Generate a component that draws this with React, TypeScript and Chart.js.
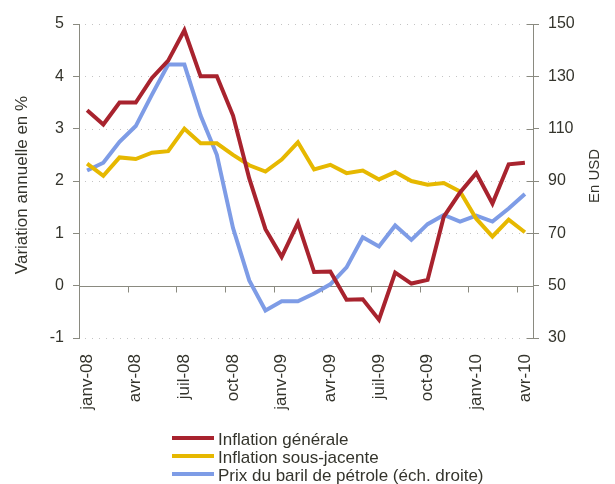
import React, { useEffect, useRef } from "react";
import { Chart, registerables } from "chart.js";

Chart.register(...registerables);

const months: string[] = [
  "janv-08", "févr-08", "mars-08", "avr-08", "mai-08", "juin-08", "juil-08", "août-08", "sept-08", "oct-08", "nov-08", "déc-08",
  "janv-09", "févr-09", "mars-09", "avr-09", "mai-09", "juin-09", "juil-09", "août-09", "sept-09", "oct-09", "nov-09", "déc-09",
  "janv-10", "févr-10", "mars-10", "avr-10",
];

const inflationGenerale: number[] = [
  3.35, 3.08, 3.5, 3.5, 3.97, 4.3, 4.88, 4.0, 4.0, 3.25, 2.05, 1.08,
  0.55, 1.2, 0.26, 0.27, -0.27, -0.26, -0.65, 0.25, 0.04, 0.11, 1.32, 1.78,
  2.15, 1.57, 2.32, 2.35,
];

const inflationSousJacente: number[] = [
  2.33, 2.1, 2.45, 2.42, 2.54, 2.57, 3.0, 2.72, 2.72, 2.5, 2.3, 2.18,
  2.41, 2.74, 2.22, 2.31, 2.15, 2.2, 2.03, 2.17, 2.0, 1.93, 1.96, 1.8,
  1.28, 0.94, 1.26, 1.02,
];

const prixPetrole: number[] = [
  94, 97, 105, 111, 123, 134.5, 134.5, 115, 100, 72, 52, 40.5,
  44, 44, 47, 50.5, 57, 68.5, 65, 73, 67.5, 73.5, 77, 74.5,
  76.8, 74.5, 79.5, 85,
];

const leftTicks: number[] = [-1, 0, 1, 2, 3, 4, 5];
const rightTicks: number[] = [30, 50, 70, 90, 110, 130, 150];

const seriesNames: string[] = [
  "Inflation générale",
  "Inflation sous-jacente",
  "Prix du baril de pétrole (éch. droite)",
];
const seriesColors: string[] = ["#A8232E", "#E6B800", "#7E9CE6"];

const leftTitle = "Variation annuelle en %";
const rightTitle = "En USD";

const FONT = "'Liberation Sans', Arial, sans-serif";
const TEXT = "#34342c";
const AXIS = "#8a8a80";

const decor = {
  id: "decor",
  beforeDatasetsDraw(chart: any) {
    const { ctx, chartArea: a, scales } = chart;
    const y = scales.y;
    const x = scales.x;
    const line = (x1: number, y1: number, x2: number, y2: number) => {
      ctx.beginPath();
      ctx.moveTo(x1, y1);
      ctx.lineTo(x2, y2);
      ctx.stroke();
    };
    ctx.save();
    ctx.lineWidth = 1;
    ctx.strokeStyle = "#c4c4c4";
    ctx.setLineDash([1, 6]);
    for (const v of leftTicks) {
      if (v === 0) continue;
      const py = Math.round(y.getPixelForValue(v)) + 0.5;
      line(a.left + 6, py, a.right - 6, py);
    }
    ctx.setLineDash([]);
    ctx.strokeStyle = AXIS;
    const y0 = Math.round(y.getPixelForValue(0)) + 0.5;
    line(a.left, y0, a.right, y0);
    const step = x.getPixelForValue(1) - x.getPixelForValue(0);
    for (let i = 3; i < months.length; i += 3) {
      const px = Math.round(x.getPixelForValue(i) - step / 2) + 0.5;
      line(px, y0, px, y0 + 6);
    }
    const yr = scales.y1;
    for (const v of rightTicks) {
      const py = Math.round(yr.getPixelForValue(v)) + 0.5;
      line(a.right - 6, py, a.right, py);
    }
    ctx.restore();
  },
  afterDraw(chart: any) {
    const { ctx } = chart;
    ctx.save();
    ctx.fillStyle = TEXT;
    ctx.textAlign = "center";
    ctx.textBaseline = "middle";
    ctx.font = `17px ${FONT}`;
    ctx.save();
    ctx.translate(22, 185);
    ctx.rotate(-Math.PI / 2);
    ctx.fillText(leftTitle, 0, 0);
    ctx.restore();
    ctx.font = `15px ${FONT}`;
    ctx.save();
    ctx.translate(595, 176);
    ctx.rotate(-Math.PI / 2);
    ctx.fillText(rightTitle, 0, 0);
    ctx.restore();
    ctx.font = `17px ${FONT}`;
    ctx.textAlign = "left";
    const ys = [438, 456, 474];
    for (let i = 0; i < seriesNames.length; i++) {
      ctx.strokeStyle = seriesColors[i];
      ctx.lineWidth = 4;
      ctx.beginPath();
      ctx.moveTo(172, ys[i]);
      ctx.lineTo(214, ys[i]);
      ctx.stroke();
      ctx.fillStyle = TEXT;
      ctx.fillText(seriesNames[i], 218, ys[i] + 2);
    }
    ctx.restore();
  },
};

export default function App() {
  const ref = useRef<HTMLCanvasElement | null>(null);
  useEffect(() => {
    if (!ref.current) return;
    const chart = new Chart(ref.current, {
      type: "line",
      data: {
        labels: months,
        datasets: [
          { label: seriesNames[0], data: inflationGenerale, borderColor: seriesColors[0], borderWidth: 4, pointRadius: 0, tension: 0, yAxisID: "y", order: 0 },
          { label: seriesNames[1], data: inflationSousJacente, borderColor: seriesColors[1], borderWidth: 4, pointRadius: 0, tension: 0, yAxisID: "y", order: 1 },
          { label: seriesNames[2], data: prixPetrole, borderColor: seriesColors[2], borderWidth: 4, pointRadius: 0, tension: 0, yAxisID: "y1", order: 2 },
        ],
      },
      options: {
        responsive: false,
        animation: false,
        layout: { padding: { top: 24, left: 0, right: 0, bottom: 0 } },
        plugins: { legend: { display: false }, tooltip: { enabled: false } },
        scales: {
          x: {
            type: "category",
            offset: true,
            grid: { display: false },
            border: { display: false },
            ticks: {
              autoSkip: false,
              maxRotation: 90,
              minRotation: 90,
              padding: 8,
              color: TEXT,
              font: { family: FONT, size: 17 },
              callback: (_v: any, i: number) => (i % 3 === 0 ? months[i] : ""),
            },
            afterFit: (s: any) => {
              s.height = 146;
            },
          },
          y: {
            type: "linear",
            position: "left",
            min: -1,
            max: 5,
            afterBuildTicks: (s: any) => {
              s.ticks = leftTicks.map((v) => ({ value: v }));
            },
            grid: { drawOnChartArea: false, drawTicks: true, tickLength: 6, color: AXIS },
            border: { display: true, color: AXIS, width: 1 },
            ticks: { padding: 9, color: TEXT, font: { family: FONT, size: 16 } },
            afterFit: (s: any) => {
              s.width = 79;
            },
          },
          y1: {
            type: "linear",
            position: "right",
            min: 30,
            max: 150,
            afterBuildTicks: (s: any) => {
              s.ticks = rightTicks.map((v) => ({ value: v }));
            },
            grid: { drawOnChartArea: false, drawTicks: true, tickLength: 6, color: AXIS },
            border: { display: true, color: AXIS, width: 1 },
            ticks: { padding: 9, color: TEXT, font: { family: FONT, size: 16 } },
            afterFit: (s: any) => {
              s.width = 82;
            },
          },
        },
      },
      plugins: [decor],
    });
    return () => chart.destroy();
  }, []);
  return (
    <div style={{ position: "fixed", left: 0, top: 0, width: 615, height: 484, background: "#fff" }}>
      <canvas ref={ref} width={615} height={484} style={{ display: "block" }} />
    </div>
  );
}
